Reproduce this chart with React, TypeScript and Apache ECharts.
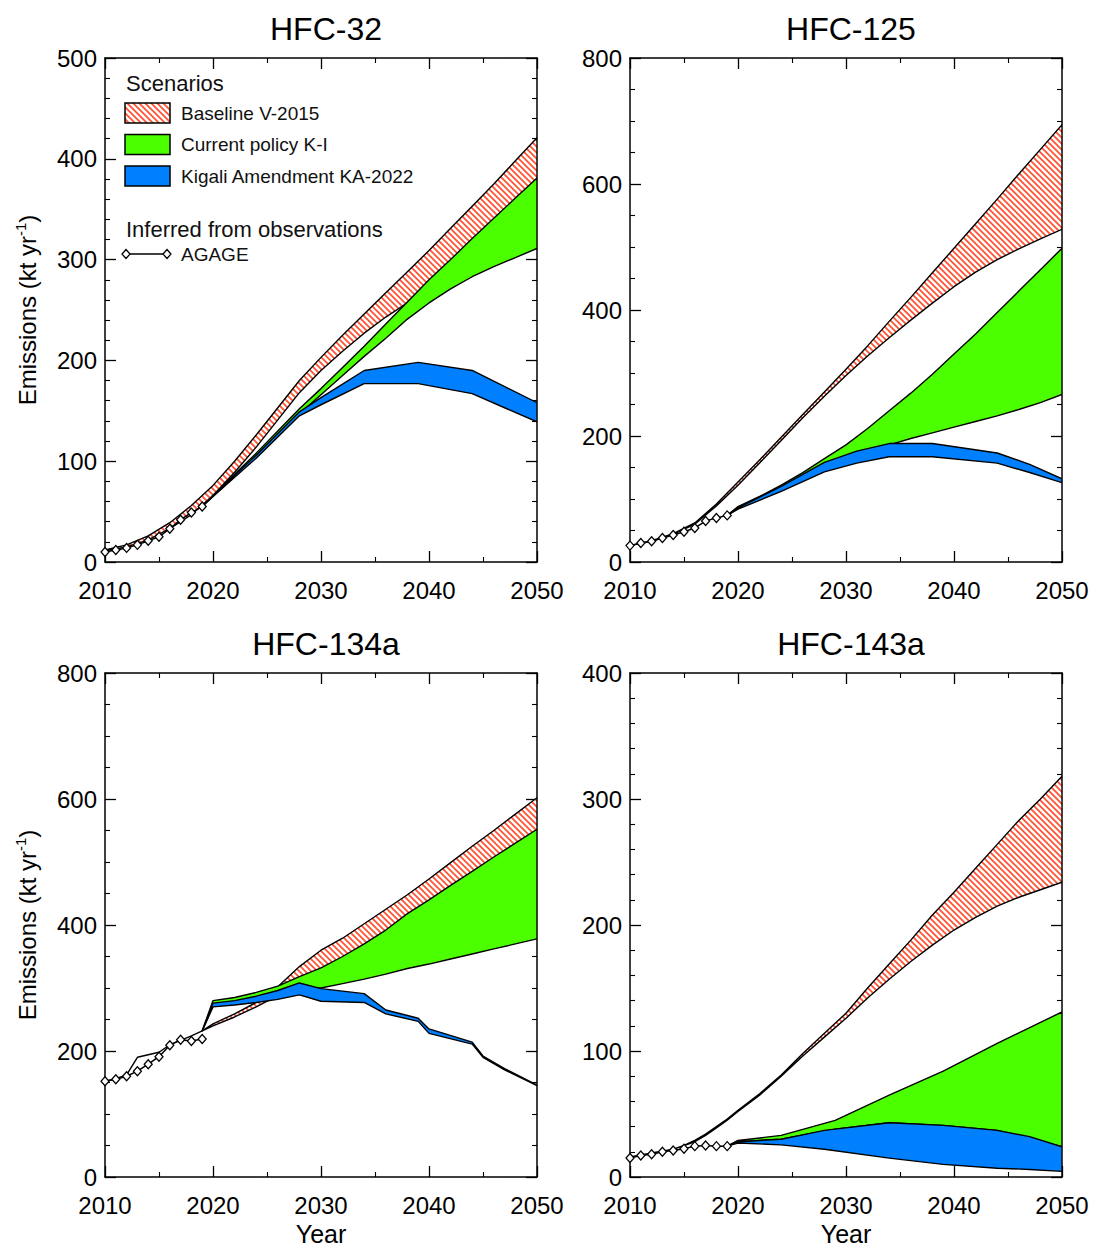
import React, { useEffect, useRef } from 'react';
import * as echarts from 'echarts';

const FONT = '"Liberation Sans", Arial, Helvetica, sans-serif';

// ---------- data ----------
const agageYears = [2010, 2011, 2012, 2013, 2014, 2015, 2016, 2017, 2018, 2019];

// HFC-32
const agage32 = [10, 12, 14, 17, 21, 25, 33, 42, 49, 55];
const baseYears32 = [2010, 2012, 2014, 2016, 2018, 2020, 2022, 2024, 2026, 2028, 2030, 2032, 2034, 2036, 2038, 2040, 2042, 2044, 2046, 2048, 2050];
const baseHigh32 = [12, 17, 26, 39, 56, 76, 100, 126, 153, 180, 203, 225, 246, 267, 288, 309, 331, 353, 375, 398, 421];
const baseLow32 = [11, 15, 22, 33, 47, 66, 89, 114, 141, 168, 190, 209, 227, 243, 257, 270, 284, 297, 310, 322, 334];
const policyYears32 = [2019, 2020, 2022, 2024, 2026, 2028, 2030, 2032, 2034, 2036, 2038, 2040, 2042, 2044, 2046, 2048, 2050];
const policyHigh32 = [55, 66, 87, 108, 130, 152, 172, 193, 214, 236, 258, 280, 300, 321, 341, 361, 381];
const policyLow32 = [55, 65, 85, 105, 126, 147, 166, 185, 204, 222, 241, 257, 271, 283, 293, 302, 311];
const kigaliYears32 = [2019, 2020, 2024, 2028, 2030, 2034, 2039, 2044, 2050];
const kigaliHigh32 = [55, 66, 106, 149, 163, 190, 198, 190, 158];
const kigaliLow32 = [55, 65, 103, 145, 156, 177, 177, 167, 139];

// HFC-125
const agage125 = [26, 30, 33, 38, 43, 48, 54, 65, 70, 74];
const baseYears125 = [2010, 2012, 2014, 2016, 2018, 2020, 2022, 2024, 2026, 2028, 2030, 2032, 2034, 2036, 2038, 2040, 2042, 2044, 2046, 2048, 2050];
const baseHigh125 = [26, 34, 45, 62, 92, 127, 162, 198, 234, 270, 306, 343, 382, 420, 459, 498, 537, 576, 616, 655, 694];
const baseLow125 = [26, 33, 44, 60, 89, 122, 157, 193, 229, 263, 296, 327, 356, 384, 411, 437, 460, 480, 497, 513, 528];
const policyYears125 = [2019, 2020, 2022, 2024, 2026, 2028, 2030, 2032, 2034, 2036, 2038, 2040, 2042, 2044, 2046, 2048, 2050];
const policyHigh125 = [74, 88, 104, 122, 142, 164, 186, 212, 240, 268, 298, 330, 362, 396, 430, 464, 498];
const policyLow125 = [74, 86, 100, 116, 132, 148, 163, 176, 186, 196, 205, 214, 223, 232, 242, 253, 266];
const kigaliYears125 = [2019, 2020, 2024, 2028, 2031, 2034, 2038, 2044, 2047, 2050];
const kigaliHigh125 = [74, 86, 120, 158, 176, 188, 188, 173, 155, 132];
const kigaliLow125 = [74, 84, 112, 143, 157, 167, 167, 157, 142, 126];

// HFC-134a
const agage134a = [152, 155, 160, 168, 179, 191, 209, 218, 216, 219];
const baseYears134a = [2010, 2011, 2012, 2013, 2014, 2015, 2016, 2017, 2018, 2019, 2020, 2022, 2024, 2026, 2028, 2030, 2032, 2034, 2036, 2038, 2040, 2042, 2044, 2046, 2048, 2050];
const baseHigh134a = [152, 156, 162, 190, 194, 198, 210, 217, 224, 232, 243, 259, 277, 302, 334, 360, 379, 402, 425, 448, 473, 499, 525, 550, 576, 602];
const baseLow134a = [152, 156, 162, 190, 194, 198, 210, 217, 224, 232, 240, 254, 270, 288, 305, 318, 335, 350, 370, 390, 410, 430, 450, 472, 495, 520];
const policyYears134a = [2019, 2020, 2022, 2024, 2026, 2028, 2030, 2032, 2034, 2036, 2038, 2040, 2042, 2044, 2046, 2048, 2050];
const policyHigh134a = [232, 280, 285, 293, 303, 318, 332, 350, 370, 392, 418, 440, 463, 485, 508, 530, 552];
const policyLow134a = [232, 272, 276, 281, 290, 300, 300, 307, 314, 322, 331, 338, 346, 354, 362, 370, 378];
const kigaliYears134a = [2019, 2020, 2022, 2024, 2026, 2028, 2030, 2034, 2036, 2039, 2040, 2044, 2045, 2047, 2050];
const kigaliHigh134a = [232, 276, 280, 287, 296, 308, 299, 291, 265, 252, 235, 214, 192, 172, 146];
const kigaliLow134a = [232, 270, 273, 277, 282, 289, 279, 277, 259, 247, 228, 211, 190, 170, 145];

// HFC-143a
const agage143a = [15, 17, 18, 20, 21, 22.5, 24.5, 25, 24.5, 24.5];
const baseYears143a = [2010, 2012, 2014, 2015, 2016, 2017, 2018, 2019, 2020, 2022, 2024, 2026, 2028, 2030, 2032, 2034, 2036, 2038, 2040, 2042, 2044, 2046, 2048, 2050];
const baseHigh143a = [16, 19, 22, 25, 29, 34, 40, 46, 53, 66, 81, 98, 114, 130, 150, 169, 188, 208, 226, 245, 264, 283, 300, 318];
const baseLow143a = [16, 19, 22, 25, 28, 33, 39, 45, 52, 65, 80, 96, 111, 126, 142, 157, 171, 184, 196, 206, 215, 222, 228, 234];
const policyYears143a = [2019, 2020, 2024, 2029, 2034, 2039, 2044, 2050];
const policyHigh143a = [24.5, 29, 33, 45, 65, 84, 106, 131];
const policyLow143a = [24.5, 28, 30, 38, 43, 41, 37, 24];
const kigaliYears143a = [2019, 2020, 2024, 2028, 2034, 2039, 2044, 2047, 2050];
const kigaliHigh143a = [24.5, 28, 30, 37, 43, 41, 37, 32, 24];
const kigaliLow143a = [24.5, 27, 25.5, 22, 15, 10, 7, 6, 4.5];

const panelTitles = ['HFC-32', 'HFC-125', 'HFC-134a', 'HFC-143a'];
const yMaxes = [500, 800, 800, 400];
const yIntervals = [100, 200, 200, 100];
const yMinorSplits = [5, 4, 4, 5];
const xTicks = { min: 2010, max: 2050, interval: 10 };

const legendScenarioLabels = ['Baseline V-2015', 'Current policy K-I', 'Kigali Amendment KA-2022'];

// ---------- styles / layout ----------
const GREEN = '#4cff00';
const BLUE = '#0080ff';
const HATCH = '#ff5434';

const gridBoxes = [
  { left: 105, top: 58, width: 432, height: 504 },
  { left: 630, top: 58, width: 432, height: 504 },
  { left: 105, top: 673, width: 432, height: 506 },
  { left: 630, top: 673, width: 432, height: 506 },
];

function makeHatchCanvas(): HTMLCanvasElement {
  const c = document.createElement('canvas');
  const s = 6;
  c.width = s;
  c.height = s;
  const ctx = c.getContext('2d')!;
  ctx.fillStyle = '#ffffff';
  ctx.fillRect(0, 0, s, s);
  ctx.strokeStyle = HATCH;
  ctx.lineWidth = 1.8;
  ctx.beginPath();
  ctx.moveTo(-1, -1);
  ctx.lineTo(s + 1, s + 1);
  ctx.moveTo(-1, s - 1);
  ctx.lineTo(1, s + 1);
  ctx.moveTo(s - 1, -1);
  ctx.lineTo(s + 1, 1);
  ctx.stroke();
  return c;
}

type Band = { years: number[]; high: number[]; low: number[] };

function bandSeries(idx: number, band: Band, fill: any, z: number) {
  return {
    type: 'custom',
    coordinateSystem: 'cartesian2d',
    xAxisIndex: idx,
    yAxisIndex: idx,
    data: [[band.years[0], band.low[0]]],
    silent: true,
    clip: true,
    z,
    renderItem: (_params: any, api: any) => {
      const pts: number[][] = [];
      band.years.forEach((y, i) => pts.push(api.coord([y, band.high[i]])));
      for (let i = band.years.length - 1; i >= 0; i--) pts.push(api.coord([band.years[i], band.low[i]]));
      return {
        type: 'polygon',
        shape: { points: pts },
        style: { fill, stroke: '#000', lineWidth: 1.4, lineJoin: 'round' },
      };
    },
  };
}

function agageSeries(idx: number, values: number[]) {
  return {
    type: 'line',
    xAxisIndex: idx,
    yAxisIndex: idx,
    data: agageYears.map((y, i) => [y, values[i]]),
    symbol: 'diamond',
    symbolSize: [8, 9],
    showAllSymbol: true,
    lineStyle: { color: '#000', width: 1.5 },
    itemStyle: { color: '#fff', borderColor: '#000', borderWidth: 1.3 },
    z: 6,
    silent: true,
  };
}

export default function App() {
  const ref = useRef<HTMLDivElement>(null);
  useEffect(() => {
    if (!ref.current) return;
    const chart = echarts.init(ref.current, undefined, { renderer: 'svg' });
    const hatch = { image: makeHatchCanvas(), repeat: 'repeat' };

    const panels = [
      {
        agage: agage32,
        base: { years: baseYears32, high: baseHigh32, low: baseLow32 },
        policy: { years: policyYears32, high: policyHigh32, low: policyLow32 },
        kigali: { years: kigaliYears32, high: kigaliHigh32, low: kigaliLow32 },
      },
      {
        agage: agage125,
        base: { years: baseYears125, high: baseHigh125, low: baseLow125 },
        policy: { years: policyYears125, high: policyHigh125, low: policyLow125 },
        kigali: { years: kigaliYears125, high: kigaliHigh125, low: kigaliLow125 },
      },
      {
        agage: agage134a,
        base: { years: baseYears134a, high: baseHigh134a, low: baseLow134a },
        policy: { years: policyYears134a, high: policyHigh134a, low: policyLow134a },
        kigali: { years: kigaliYears134a, high: kigaliHigh134a, low: kigaliLow134a },
      },
      {
        agage: agage143a,
        base: { years: baseYears143a, high: baseHigh143a, low: baseLow143a },
        policy: { years: policyYears143a, high: policyHigh143a, low: policyLow143a },
        kigali: { years: kigaliYears143a, high: kigaliHigh143a, low: kigaliLow143a },
      },
    ];

    const axisLine = { show: true, onZero: false, lineStyle: { color: '#000', width: 1.5 } };
    const tick = (len: number) => ({ show: true, inside: true, length: len, lineStyle: { color: '#000', width: 1.3 } });
    const minor = (split: number) => ({ show: true, splitNumber: split, length: 5, lineStyle: { color: '#000', width: 1.1 } });
    const plain = (v: number) => String(v);

    const xAxes: any[] = [];
    const yAxes: any[] = [];
    for (let i = 0; i < 4; i++) {
      xAxes.push({
        gridIndex: i,
        type: 'value',
        position: 'bottom',
        ...xTicks,
        axisLine,
        axisTick: tick(11),
        minorTick: minor(2),
        splitLine: { show: false },
        axisLabel: { fontSize: 24, color: '#000', fontFamily: FONT, margin: 16, formatter: plain },
        name: i >= 2 ? 'Year' : '',
        nameLocation: 'middle',
        nameGap: 44,
        nameTextStyle: { fontSize: 25, color: '#000', fontFamily: FONT },
      });
    }
    for (let i = 0; i < 4; i++) {
      xAxes.push({
        gridIndex: i,
        type: 'value',
        position: 'top',
        ...xTicks,
        axisLine,
        axisTick: tick(11),
        minorTick: minor(2),
        splitLine: { show: false },
        axisLabel: { show: false },
      });
    }
    for (let i = 0; i < 4; i++) {
      yAxes.push({
        gridIndex: i,
        type: 'value',
        position: 'left',
        min: 0,
        max: yMaxes[i],
        interval: yIntervals[i],
        axisLine,
        axisTick: tick(11),
        minorTick: minor(yMinorSplits[i]),
        splitLine: { show: false },
        axisLabel: { fontSize: 24, color: '#000', fontFamily: FONT, margin: 8, formatter: plain },
        name: i % 2 === 0 ? '{t|Emissions (kt yr}{s|-1}{t|)}' : '',
        nameLocation: 'middle',
        nameGap: 64,
        nameTextStyle: {
          rich: {
            t: { fontSize: 24, color: '#000', fontFamily: FONT, lineHeight: 28 },
            s: { fontSize: 15, color: '#000', fontFamily: FONT, verticalAlign: 'top', lineHeight: 28 },
          },
        },
      });
    }
    for (let i = 0; i < 4; i++) {
      yAxes.push({
        gridIndex: i,
        type: 'value',
        position: 'right',
        min: 0,
        max: yMaxes[i],
        interval: yIntervals[i],
        axisLine,
        axisTick: tick(11),
        minorTick: minor(yMinorSplits[i]),
        splitLine: { show: false },
        axisLabel: { show: false },
      });
    }

    const series: any[] = [];
    panels.forEach((p, i) => {
      series.push(bandSeries(i, p.base, hatch, 2));
      series.push(bandSeries(i, p.policy, GREEN, 3));
      series.push(bandSeries(i, p.kigali, BLUE, 4));
      series.push(agageSeries(i, p.agage));
    });

    const titles = panelTitles.map((t, i) => ({
      text: t,
      left: gridBoxes[i].left + gridBoxes[i].width / 2,
      top: i < 2 ? 8 : 623,
      textAlign: 'center',
      textStyle: { fontSize: 32, fontWeight: 'normal', color: '#000', fontFamily: FONT },
    }));

    const legendFills = [hatch, GREEN, BLUE];
    const lg: any[] = [
      {
        type: 'text',
        left: 126,
        top: 72,
        style: { text: 'Scenarios', fontSize: 22, fill: '#111', fontFamily: FONT },
      },
    ];
    legendScenarioLabels.forEach((label, k) => {
      const y = 103 + k * 31.5;
      lg.push({
        type: 'rect',
        shape: { x: 125, y, width: 45, height: 20 },
        style: { fill: legendFills[k], stroke: '#000', lineWidth: 1.5 },
        z: 10,
      });
      lg.push({
        type: 'text',
        x: 181,
        y: y + 10,
        style: { text: label, fontSize: 19, fill: '#111', fontFamily: FONT, verticalAlign: 'middle' },
        z: 10,
      });
    });
    lg.push({
      type: 'text',
      x: 126,
      y: 229,
      style: { text: 'Inferred from observations', fontSize: 22, fill: '#111', fontFamily: FONT, verticalAlign: 'middle' },
      z: 10,
    });
    lg.push({
      type: 'line',
      shape: { x1: 126, y1: 254, x2: 167, y2: 254 },
      style: { stroke: '#000', lineWidth: 1.5 },
      z: 10,
    });
    [126, 167].forEach((cx) => {
      lg.push({
        type: 'polygon',
        shape: { points: [[cx, 249.5], [cx + 4, 254], [cx, 258.5], [cx - 4, 254]] },
        style: { fill: '#fff', stroke: '#000', lineWidth: 1.3 },
        z: 11,
      });
    });
    lg.push({
      type: 'text',
      x: 181,
      y: 254,
      style: { text: 'AGAGE', fontSize: 19, fill: '#111', fontFamily: FONT, verticalAlign: 'middle' },
      z: 10,
    });

    chart.setOption({
      animation: false,
      backgroundColor: '#fff',
      title: titles,
      grid: gridBoxes.map((g) => ({ ...g, containLabel: false })),
      xAxis: xAxes,
      yAxis: yAxes,
      series,
      graphic: lg,
    });
    return () => chart.dispose();
  }, []);

  return (
    <div
      ref={ref}
      style={{ position: 'absolute', left: 0, top: 0, width: 1093, height: 1247, background: '#fff' }}
    />
  );
}
